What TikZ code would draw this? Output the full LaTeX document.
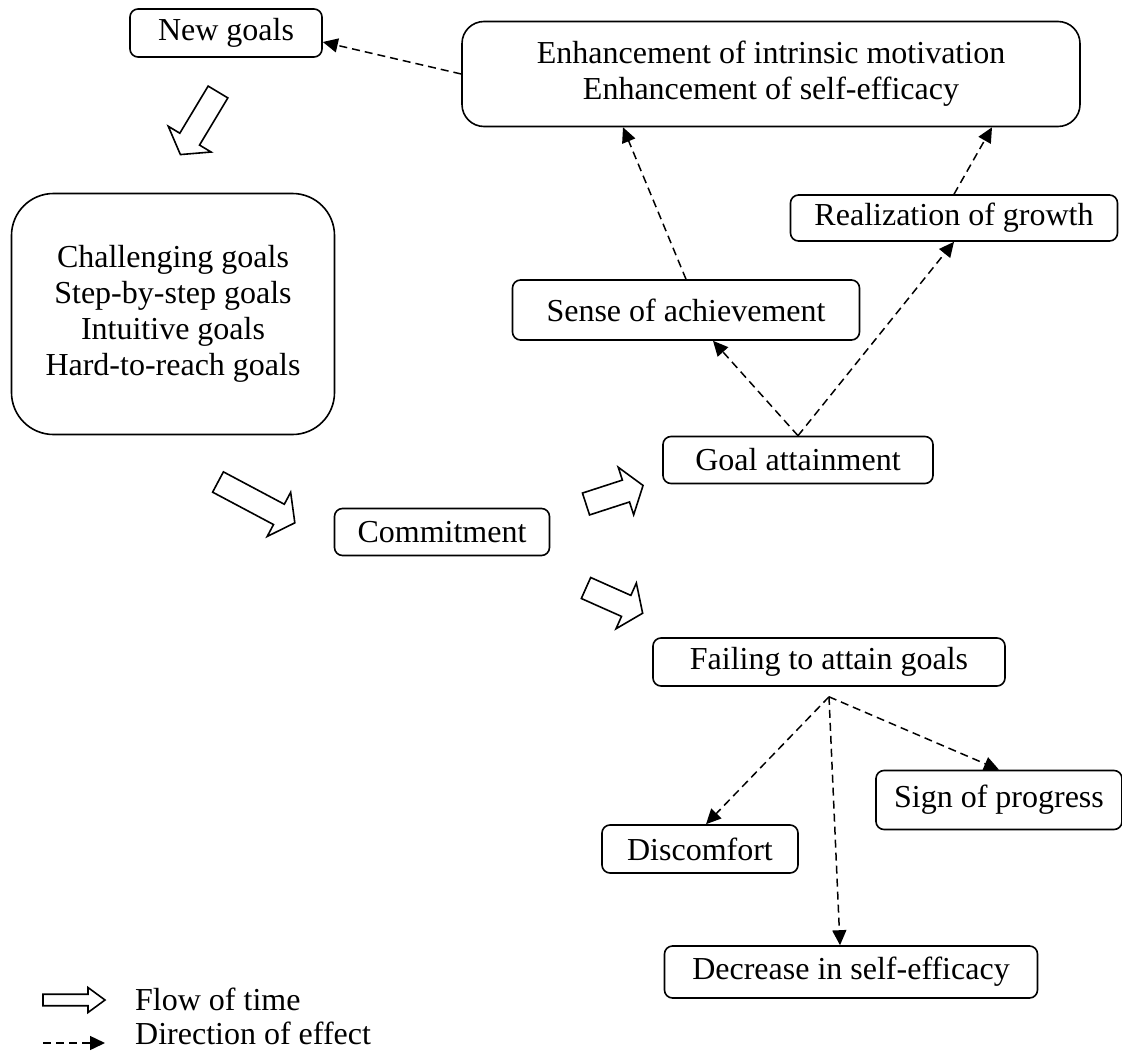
\documentclass[tikz,border=0pt]{standalone}
\usepackage{fontspec}
\setmainfont{Liberation Serif}
\usetikzlibrary{arrows.meta,calc}
\tikzset{
  >={Triangle[length=15pt,width=14pt]},
  gbox/.style={draw=black,rounded corners=8pt,line width=1.6pt,minimum height=46pt,
    font=\fontsize{32}{36}\selectfont,inner sep=4pt,align=center},
  effect/.style={->,line width=1.5pt,dash pattern=on 8pt off 5pt},
  flowshape/.style={draw=black,fill=white,line width=1.6pt,line join=miter},
  pics/flowarrow/.style 2 args={code={
    \draw[flowshape] (0,-11.5) -- (#1-#2,-11.5) -- (#1-#2,-25) -- (#1,0)
      -- (#1-#2,25) -- (#1-#2,11.5) -- (0,11.5) -- cycle;}},
  lgtext/.style={anchor=base west,font=\fontsize{32}{36}\selectfont,inner sep=0pt},
}
\begin{document}
\begin{tikzpicture}[x=1pt,y=-1pt]
  \useasboundingbox (0,0) rectangle (1122,1052);
  % boxes
  \node[gbox,minimum width=192pt,minimum height=48pt] (newg) at (226,33) {New goals};
  \node[gbox,minimum width=618pt,minimum height=105pt,rounded corners=22pt] (enh) at (771,74)
    {Enhancement of intrinsic motivation\\Enhancement of self-efficacy};
  \node[gbox,minimum width=323pt,minimum height=241pt,rounded corners=42pt] (goals) at (173,314)
    {Challenging goals\\Step-by-step goals\\Intuitive goals\\Hard-to-reach goals};
  \node[gbox,minimum width=327pt] (growth) at (954,218) {Realization of growth};
  \node[gbox,minimum width=347pt,minimum height=60pt] (sense) at (686,310) {Sense of achievement};
  \node[gbox,minimum width=270pt,minimum height=47pt] (attain) at (798,460) {Goal attainment};
  \node[gbox,minimum width=215pt,minimum height=47pt] (commit) at (442,532) {Commitment};
  \node[gbox,minimum width=352pt,minimum height=48pt] (fail) at (829,662) {Failing to attain goals};
  \node[gbox,minimum width=246pt,minimum height=59pt] (sign) at (999,800) {Sign of progress};
  \node[gbox,minimum width=196pt,minimum height=48pt] (discomf) at (700,849) {Discomfort};
  \node[gbox,minimum width=373pt,minimum height=52pt] (decr) at (851,972) {Decrease in self-efficacy};
  \coordinate (fapex) at ([yshift=-10pt]fail.south);

  % flow of time
  \pic[rotate=-121] at (218,92) {flowarrow={73}{18}};
  \pic[rotate=-28] at (218,482) {flowarrow={87}{18}};
  \pic[rotate=18] at (586,504) {flowarrow={60}{18}};
  \pic[rotate=-24] at (586,588) {flowarrow={62}{18}};

  % direction of effect
  \draw[effect] (enh.west) -- ([yshift=-9pt]newg.east);
  \draw[effect] ([xshift=0pt]sense.north) -- ([xshift=-148pt]enh.south);
  \draw[effect] (growth.north) -- ([xshift=221pt]enh.south);
  \draw[effect] (attain.north) -- ([xshift=27pt]sense.south);
  \draw[effect] (attain.north) -- (growth.south);
  \draw[effect] (fapex) -- ([xshift=6pt]discomf.north);
  \draw[effect] (fapex) -- ([xshift=-11pt]decr.north);
  \draw[effect] (fapex) -- (sign.north);

  % legend
  \pic[scale=0.5] at (43,1000) {flowarrow={124}{34}};
  \coordinate (lgs) at (43,1043);
  \coordinate (lge) at (105,1043);
  \draw[effect] (lgs) -- (lge);
  \node[lgtext] (lgflow) at (135,1010) {Flow of time};
  \node[lgtext] (lgeff) at (135,1044) {Direction of effect};
\end{tikzpicture}
\end{document}
